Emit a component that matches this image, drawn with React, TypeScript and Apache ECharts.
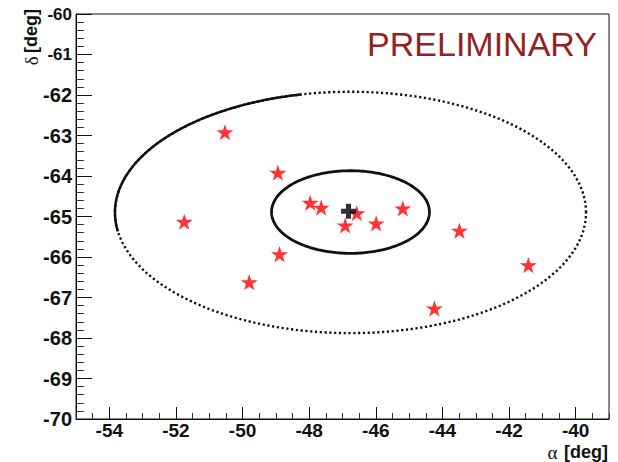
import React, { useEffect, useRef } from "react";
import * as echarts from "echarts";

const alphaRange = [-55, -39];
const deltaRange = [-70, -60];
const alphaLabelValues = [-54, -52, -50, -48, -46, -44, -42, -40];

const starAlpha = [-50.53, -48.94, -51.75, -47.97, -47.64, -46.92, -48.89, -49.8, -46.57, -45.99, -45.19, -43.49, -41.42, -44.24];
const starDelta = [-62.92, -63.92, -65.13, -64.66, -64.78, -65.22, -65.93, -66.62, -64.92, -65.17, -64.8, -65.35, -66.2, -67.27];

const centerAlpha = [-46.82];
const centerDelta = [-64.87];

// ellipse: [alpha centre, delta centre, alpha semi-axis, delta semi-axis]
const innerEllipse = [-46.76, -64.89, 2.37, 1.02];
const outerEllipse = [-46.76, -64.9, 7.07, 2.98];

const STAR =
  "path://M0,-10 L2.245,-3.09 L9.511,-3.09 L3.633,1.18 L5.878,8.09 L0,3.82 L-5.878,8.09 L-3.633,1.18 L-9.511,-3.09 L-2.245,-3.09 Z";
const PLUS =
  "path://M-1,-3 L1,-3 L1,-1 L3,-1 L3,1 L1,1 L1,3 L-1,3 L-1,1 L-3,1 L-3,-1 L-1,-1 Z";

function ellipsePoints(cx: number, cy: number, rx: number, ry: number, t0: number, t1: number) {
  const pts: number[][] = [];
  const n = 240;
  for (let i = 0; i <= n; i++) {
    const t = ((t0 + ((t1 - t0) * i) / n) * Math.PI) / 180;
    pts.push([cx + rx * Math.cos(t), cy - ry * Math.sin(t)]);
  }
  return pts;
}

export default function App() {
  const ref = useRef<HTMLDivElement>(null);
  useEffect(() => {
    if (!ref.current) return;
    const chart = echarts.init(ref.current, null, { renderer: "svg" });
    const labelFont = { fontFamily: "Liberation Sans", fontWeight: "bold" as const, fontSize: 20, color: "#111" };
    chart.setOption({
      animation: false,
      backgroundColor: "#fff",
      grid: { left: 76, right: 9, top: 14, bottom: 43, show: true, borderColor: "#111", borderWidth: 1, backgroundColor: "transparent" },
      xAxis: [
        {
          type: "value",
          min: alphaRange[0],
          max: alphaRange[1],
          interval: 0.5,
          position: "bottom",
          axisLine: { show: true, lineStyle: { color: "#111", width: 1 } },
          axisTick: { show: true, inside: true, length: 6, lineStyle: { color: "#333" } },
          splitLine: { show: false },
          axisLabel: {
            ...labelFont,
            fontSize: 19,
            margin: 2,
            lineHeight: 18,
            formatter: (v: number) => (Number.isInteger(v) && v % 2 === 0 && v > alphaRange[0] && v < alphaRange[1] ? String(v) : ""),
          },
        },
        {
          type: "value",
          min: alphaRange[0],
          max: alphaRange[1],
          position: "bottom",
          axisLine: { show: false },
          axisTick: { show: true, inside: true, length: 12, customValues: alphaLabelValues, lineStyle: { color: "#111" } },
          axisLabel: { show: false },
          splitLine: { show: false },
        },
      ],
      yAxis: {
        type: "value",
        min: deltaRange[0],
        max: deltaRange[1],
        interval: 1,
        axisLine: { show: true, lineStyle: { color: "#111", width: 1 } },
        axisTick: { show: true, inside: true, length: 16, lineStyle: { color: "#111" } },
        minorTick: { show: true, splitNumber: 5, length: 8, lineStyle: { color: "#333" } },
        splitLine: { show: false },
        axisLabel: {
          ...labelFont,
          margin: 4,
          formatter: (v: number) => (v >= -61 ? `{s|${v}}` : String(v)),
          rich: { s: { fontFamily: "Liberation Sans", fontWeight: "bold", fontSize: 17, color: "#111" } },
        },
      },
      graphic: [
        {
          type: "text",
          x: 482,
          y: 44,
          style: { text: "PRELIMINARY", fill: "#961f22", font: "normal 34px 'Liberation Sans'", align: "center", verticalAlign: "middle" },
        },
        {
          type: "text",
          x: 608,
          y: 452,
          style: {
            text: "{a|α}  {b|[deg]}",
            align: "right",
            verticalAlign: "middle",
            rich: {
              a: { fontFamily: "Liberation Serif", fontSize: 19, lineHeight: 17, fill: "#111" },
              b: { fontFamily: "Liberation Sans", fontWeight: "bold", fontSize: 18, lineHeight: 17, fill: "#111" },
            },
          },
        },
        {
          type: "text",
          x: 31,
          y: 9,
          rotation: Math.PI / 2,
          style: {
            text: "{a|δ} {b|[deg]}",
            align: "right",
            verticalAlign: "middle",
            rich: {
              a: { fontFamily: "Liberation Serif", fontSize: 19, fill: "#111" },
              b: { fontFamily: "Liberation Sans", fontWeight: "bold", fontSize: 18, fill: "#111" },
            },
          },
        },
      ],
      series: [
        {
          type: "custom",
          z: 2,
          silent: true,
          data: [outerEllipse],
          encode: { x: 0, y: 1 },
          renderItem: (params: any, api: any) => {
            const c = api.coord([api.value(0), api.value(1)]);
            const s = api.size([api.value(2), api.value(3)]);
            return {
              type: "group",
              children: [
                {
                  type: "polyline",
                  shape: { points: ellipsePoints(c[0], c[1], s[0], s[1], 0, 360) },
                  style: { stroke: "#111", fill: "none", lineWidth: 2.4, lineDash: [2.2, 2.6] },
                },
                {
                  type: "polyline",
                  shape: { points: ellipsePoints(c[0], c[1], s[0], s[1], 102, 189) },
                  style: { stroke: "#111", fill: "none", lineWidth: 2.5 },
                },
              ],
            };
          },
        },
        {
          type: "custom",
          z: 2,
          silent: true,
          data: [innerEllipse],
          encode: { x: 0, y: 1 },
          renderItem: (params: any, api: any) => {
            const c = api.coord([api.value(0), api.value(1)]);
            const s = api.size([api.value(2), api.value(3)]);
            return {
              type: "polyline",
              shape: { points: ellipsePoints(c[0], c[1], s[0], s[1], 0, 360) },
              style: { stroke: "#111", fill: "none", lineWidth: 2.8 },
            };
          },
        },
        {
          type: "scatter",
          z: 3,
          symbol: STAR,
          symbolKeepAspect: true,
          symbolSize: 17,
          itemStyle: { color: "#ff0000" },
          data: starAlpha.map((a, i) => [a, starDelta[i]]),
        },
        {
          type: "scatter",
          z: 4,
          symbol: PLUS,
          symbolSize: 15,
          itemStyle: { color: "#000" },
          data: centerAlpha.map((a, i) => [a, centerDelta[i]]),
        },
      ],
    });
    return () => chart.dispose();
  }, []);
  return <div ref={ref} style={{ position: "fixed", left: 0, top: 0, width: 618, height: 462 }} />;
}
